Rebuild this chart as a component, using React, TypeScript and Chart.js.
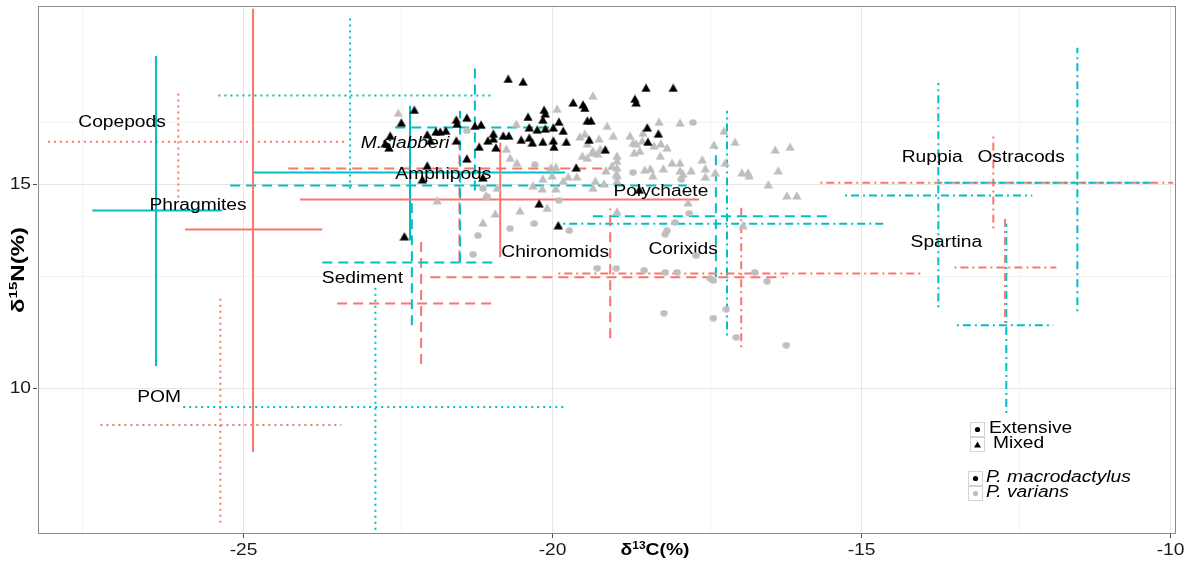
import React, { useEffect, useRef } from 'react';
import { Chart, registerables } from 'chart.js';

Chart.register(...registerables);

const WIDTH = 1201;
const HEIGHT = 569;

const xRange = [-28.32, -9.92];
const yRange = [6.46, 19.34];
const xTickValues = [-25, -20, -15, -10];
const yTickValues = [10, 15];
const xMinorGrid = [-27.6, -22.45, -17.45, -12.45];
const yMinorGrid = [12.75, 16.5];

const SALMON = '#F8766D';
const CYAN = '#00BFC4';
const GREY = '#BEBEBE';

// Source crosshairs (mean with ranges)
const sourceNames = ['Phragmites', 'Phragmites', 'Chironomids', 'Amphipods', 'Copepods', 'Copepods', 'POM', 'POM', 'Sediment', 'Sediment', 'M.slabberi', 'Amphipods', 'M.slabberi', 'Chironomids', 'Corixids', 'Polychaete', 'Corixids', 'Ruppia', 'Ostracods', 'Ostracods', 'Spartina', 'Spartina'];
const sourceColors = ['c', 's', 's', 'c', 'c', 's', 'c', 's', 'c', 's', 'c', 'c', 's', 's', 's', 'c', 'c', 'c', 'c', 's', 's', 'c'];
const sourceLineTypes = ['solid', 'solid', 'solid', 'solid', 'dotted', 'dotted', 'dotted', 'dotted', 'dashed', 'dashed', 'dashed', 'dashed', 'dashed', 'dashed', 'dotdash', 'dotdash', 'dashed', 'dotdash', 'dotdash', 'dotdash', 'dotdash', 'dotdash'];
const sourceCenterX = [-26.41, -24.84, -20.84, -22.30, -23.27, -26.05, -22.86, -25.37, -22.27, -22.12, -21.25, -21.49, -21.50, -19.06, -16.94, -17.17, -17.35, -13.75, -11.50, -12.86, -12.67, -12.65];
const sourceCenterY = [14.34, 13.88, 14.61, 15.27, 17.15, 16.02, 9.54, 9.10, 13.07, 12.07, 16.37, 14.95, 15.37, 12.71, 12.80, 14.02, 14.20, 14.71, 15.02, 15.02, 12.95, 11.54];
const sourceXLow = [-27.44, -25.94, -24.08, -24.84, -25.40, -28.16, -25.97, -27.31, -23.72, -23.48, -22.54, -25.21, -24.27, -21.97, -19.90, -19.82, -19.34, -15.26, -13.75, -15.66, -13.49, -13.45];
const sourceXHigh = [-25.34, -23.72, -17.62, -19.79, -20.95, -23.35, -19.79, -23.41, -20.95, -20.94, -20.03, -17.82, -18.95, -16.25, -14.01, -14.64, -15.47, -12.23, -10.27, -9.95, -11.84, -11.89];
const sourceYLow = [10.54, 8.44, 13.20, 13.61, 14.88, 14.66, 6.54, 6.71, 11.54, 10.59, 14.83, 13.07, 13.12, 11.22, 11.00, 11.29, 12.71, 11.98, 11.88, 13.90, 11.59, 9.39];
const sourceYHigh = [18.12, 19.27, 16.00, 16.90, 19.10, 17.22, 12.51, 12.24, 14.61, 13.68, 17.95, 16.78, 16.05, 14.39, 14.41, 16.78, 15.88, 17.46, 18.32, 16.24, 14.22, 14.02];

// Text labels
const labelTexts = ['Copepods', 'Phragmites', 'M.slabberi', 'Amphipods', 'Polychaete', 'Chironomids', 'Corixids', 'Sediment', 'POM', 'Ruppia', 'Ostracods', 'Spartina'];
const labelX = [-26.96, -25.73, -22.38, -21.76, -18.24, -19.95, -17.88, -23.07, -26.36, -13.85, -12.41, -13.62];
const labelY = [16.49, 14.46, 15.98, 15.22, 14.80, 13.32, 13.39, 12.68, 9.76, 15.63, 15.63, 13.56];
const labelItalic = [false, false, true, false, false, false, false, false, false, false, false, false];

// P. macrodactylus, Mixed (black triangles)
const macroMixed: [number, number][] = [
  [-20.71, 17.56], [-20.47, 17.49], [-19.66, 16.98], [-19.50, 16.93], [-19.47, 16.85], [-18.48, 17.34], [-18.04, 17.34], [-18.66, 17.07], [-18.64, 16.98], [-22.23, 16.80],
  [-22.44, 16.49], [-21.55, 16.56], [-21.38, 16.61], [-21.54, 16.46], [-21.15, 16.44], [-21.25, 16.41], [-20.39, 16.63], [-20.13, 16.80], [-20.11, 16.71], [-20.15, 16.56],
  [-19.89, 16.51], [-20.37, 16.37], [-20.24, 16.32], [-20.11, 16.34], [-19.98, 16.37], [-19.82, 16.29], [-19.43, 16.54], [-19.37, 16.54], [-18.46, 16.37], [-18.28, 16.22],
  [-18.45, 16.02], [-22.62, 16.17], [-22.02, 16.20], [-21.88, 16.27], [-21.81, 16.27], [-21.72, 16.29], [-21.55, 16.05], [-21.97, 16.05], [-22.64, 15.88], [-22.70, 15.98],
  [-20.95, 16.22], [-20.95, 16.10], [-20.79, 16.17], [-20.70, 16.17], [-20.50, 16.07], [-20.32, 16.00], [-20.37, 16.12], [-20.15, 16.02], [-19.98, 16.05], [-19.97, 15.90],
  [-19.77, 16.02], [-19.40, 16.07], [-19.14, 15.83], [-21.18, 15.90], [-20.91, 15.88], [-21.04, 16.05], [-21.38, 15.61], [-22.02, 15.44], [-21.12, 15.15], [-22.10, 15.10],
  [-19.61, 15.39], [-20.21, 14.51], [-19.90, 13.98], [-22.39, 13.71], [-18.59, 14.85]
];

// P. varians, Mixed (grey triangles)
const variansMixed: [number, number][] = [
  [-19.34, 17.15], [-19.11, 16.41], [-19.01, 16.17], [-18.74, 16.17], [-18.53, 16.24], [-18.27, 16.51], [-17.93, 16.49], [-18.35, 15.93], [-18.69, 16.00], [-18.54, 16.05],
  [-18.58, 15.80], [-18.25, 15.68], [-18.06, 15.51], [-17.93, 15.51], [-17.93, 15.32], [-18.20, 15.37], [-18.41, 15.37], [-18.50, 15.34], [-17.57, 15.59], [-17.38, 15.95],
  [-17.22, 16.29], [-17.04, 16.02], [-17.20, 15.51], [-17.52, 15.37], [-17.52, 15.17], [-17.36, 15.27], [-16.93, 15.27], [-16.83, 15.27], [-16.81, 15.20], [-16.39, 15.83],
  [-16.15, 15.90], [-16.34, 15.32], [-16.50, 14.98], [-16.20, 14.71], [-16.04, 14.71], [-18.95, 15.68], [-18.95, 15.56], [-18.95, 15.39], [-18.96, 15.24], [-18.95, 15.07],
  [-19.03, 15.44], [-19.13, 15.32], [-19.30, 15.07], [-18.95, 14.32], [-17.80, 14.54], [-16.91, 13.98], [-19.43, 15.98], [-19.35, 15.76], [-19.22, 15.85], [-19.51, 15.68],
  [-22.49, 16.73], [-20.58, 16.46], [-19.92, 16.83], [-19.55, 16.15], [-19.47, 16.22], [-19.24, 16.10], [-19.34, 15.80], [-19.26, 15.73], [-19.43, 15.63], [-18.64, 15.98],
  [-18.24, 15.98], [-18.14, 15.88], [-17.75, 15.32], [-17.88, 15.24], [-18.67, 15.76], [-18.37, 15.20], [-18.95, 15.20], [-20.74, 15.85], [-20.68, 15.63], [-20.57, 15.51],
  [-19.74, 15.17], [-19.82, 15.07], [-20.00, 15.20], [-20.15, 15.12], [-19.60, 15.17], [-20.02, 15.39], [-19.94, 15.41], [-20.16, 14.88], [-19.94, 14.88], [-19.34, 14.90],
  [-19.16, 15.00], [-20.52, 14.34], [-20.92, 14.27], [-21.12, 14.05], [-21.86, 14.59], [-20.89, 14.90], [-21.07, 14.71], [-20.08, 14.41], [-20.31, 14.95]
];

// P. varians, Extensive (grey circles)
const variansExtensive: [number, number][] = [
  [-17.72, 16.49], [-18.69, 15.27], [-17.91, 15.10], [-17.78, 14.27], [-18.01, 14.05], [-18.14, 13.85], [-18.17, 13.76], [-17.67, 13.24], [-19.27, 12.93], [-18.96, 12.93],
  [-18.51, 12.88], [-18.17, 12.83], [-17.98, 12.83], [-17.44, 12.68], [-17.39, 12.63], [-16.72, 12.83], [-16.52, 12.61], [-18.19, 11.83], [-17.39, 11.71], [-17.18, 11.93],
  [-17.02, 11.24], [-16.21, 11.05], [-21.38, 16.29], [-20.28, 15.46], [-21.05, 14.68], [-21.12, 14.88], [-20.29, 14.02], [-20.68, 13.90], [-21.20, 13.73], [-21.28, 13.27],
  [-19.72, 13.85], [-19.89, 14.59]
];

const legendShapeLabels = ['Extensive', 'Mixed'];
const legendSpeciesLabels = ['P. macrodactylus', 'P. varians'];

const FONT = '"Liberation Sans", Arial, sans-serif';
const STRETCH = 1.2;

const dashFor = (t: string): number[] => {
  if (t === 'dashed') return [10, 6];
  if (t === 'dotted') return [2, 4];
  if (t === 'dotdash') return [2, 4, 8, 4];
  return [];
};

function makeTriangle(color: string, w = 10, h = 9): HTMLCanvasElement {
  const c = document.createElement('canvas');
  c.width = w; c.height = h;
  const g = c.getContext('2d')!;
  g.fillStyle = color;
  g.beginPath();
  g.moveTo(w / 2, 0.3);
  g.lineTo(w - 0.3, h - 0.5);
  g.lineTo(0.3, h - 0.5);
  g.closePath();
  g.fill();
  return c;
}

function makeEllipse(color: string, w = 8, h = 7): HTMLCanvasElement {
  const c = document.createElement('canvas');
  c.width = w; c.height = h;
  const g = c.getContext('2d')!;
  g.fillStyle = color;
  g.beginPath();
  g.ellipse(w / 2, h / 2, w / 2 - 0.3, h / 2 - 0.3, 0, 0, Math.PI * 2);
  g.fill();
  return c;
}

function stretchText(ctx: CanvasRenderingContext2D, text: string, x: number, y: number, font: string, align: CanvasTextAlign, color = '#000') {
  ctx.save();
  ctx.font = font;
  ctx.fillStyle = color;
  ctx.textBaseline = 'middle';
  ctx.textAlign = align;
  ctx.translate(x, y);
  ctx.scale(STRETCH, 1);
  ctx.fillText(text, 0, 0);
  ctx.restore();
}

type Part = { t: string; size: number; dy: number };
function richTitle(ctx: CanvasRenderingContext2D, parts: Part[], x: number, y: number, targetLen: number, rotate: boolean, thick: number) {
  ctx.save();
  const widths = parts.map((p) => { ctx.font = `bold ${p.size}px ${FONT}`; return ctx.measureText(p.t).width; });
  const total = widths.reduce((a, b) => a + b, 0);
  const s = targetLen / total;
  ctx.translate(x, y);
  if (rotate) ctx.rotate(-Math.PI / 2);
  ctx.scale(s, thick);
  ctx.fillStyle = '#000';
  ctx.textBaseline = 'alphabetic';
  ctx.textAlign = 'left';
  let cx = -total / 2;
  parts.forEach((p, i) => {
    ctx.font = `bold ${p.size}px ${FONT}`;
    ctx.fillText(p.t, cx, 6 + p.dy);
    cx += widths[i];
  });
  ctx.restore();
}

export default function App() {
  const ref = useRef<HTMLCanvasElement>(null);

  useEffect(() => {
    document.body.style.margin = '0';
    const canvas = ref.current;
    if (!canvas) return;

    const triBlack = makeTriangle('#000000');
    const triGrey = makeTriangle(GREY);
    const circGrey = makeEllipse(GREY);

    const datasets: any[] = [
      { label: 'macroMixed', data: macroMixed.map(([x, y]) => ({ x, y })), pointStyle: triBlack, pointRadius: 5, order: 1 },
      { label: 'variansMixed', data: variansMixed.map(([x, y]) => ({ x, y })), pointStyle: triGrey, pointRadius: 5, order: 2 },
      { label: 'variansExtensive', data: variansExtensive.map(([x, y]) => ({ x, y })), pointStyle: circGrey, pointRadius: 4, order: 3 },
    ];

    sourceNames.forEach((name, i) => {
      const color = sourceColors[i] === 's' ? SALMON : CYAN;
      const dash = dashFor(sourceLineTypes[i]);
      const common = { showLine: true, borderColor: color, borderWidth: 2, borderDash: dash, pointRadius: 0, fill: false, order: 10, borderCapStyle: 'butt' };
      datasets.push({ ...common, label: name + ' h', data: [{ x: sourceXLow[i], y: sourceCenterY[i] }, { x: sourceXHigh[i], y: sourceCenterY[i] }] });
      datasets.push({ ...common, label: name + ' v', data: [{ x: sourceCenterX[i], y: sourceYLow[i] }, { x: sourceCenterX[i], y: sourceYHigh[i] }] });
    });

    const decor = {
      id: 'decor',
      beforeDatasetsDraw(chart: any) {
        const { ctx, chartArea } = chart;
        const { left, right, top, bottom } = chartArea;
        const xs = chart.scales.x;
        const ys = chart.scales.y;
        ctx.save();
        ctx.fillStyle = '#ffffff';
        ctx.fillRect(left, top, right - left, bottom - top);
        ctx.lineWidth = 1;
        ctx.strokeStyle = '#f3f3f3';
        xMinorGrid.forEach((v) => { const p = Math.round(xs.getPixelForValue(v)) + 0.5; ctx.beginPath(); ctx.moveTo(p, top); ctx.lineTo(p, bottom); ctx.stroke(); });
        yMinorGrid.forEach((v) => { const p = Math.round(ys.getPixelForValue(v)) + 0.5; ctx.beginPath(); ctx.moveTo(left, p); ctx.lineTo(right, p); ctx.stroke(); });
        ctx.strokeStyle = '#e6e6e6';
        xTickValues.forEach((v) => { const p = Math.round(xs.getPixelForValue(v)) + 0.5; ctx.beginPath(); ctx.moveTo(p, top); ctx.lineTo(p, bottom); ctx.stroke(); });
        yTickValues.forEach((v) => { const p = Math.round(ys.getPixelForValue(v)) + 0.5; ctx.beginPath(); ctx.moveTo(left, p); ctx.lineTo(right, p); ctx.stroke(); });
        ctx.restore();
      },
      beforeDatasetDraw(chart: any, args: any) {
        if (args.index !== 2) return;
        const { ctx } = chart;
        const xs = chart.scales.x;
        const ys = chart.scales.y;
        labelTexts.forEach((t, i) => {
          const f = `${labelItalic[i] ? 'italic ' : ''}16px ${FONT}`;
          stretchText(ctx, t, xs.getPixelForValue(labelX[i]), ys.getPixelForValue(labelY[i]), f, 'center', '#000');
        });
      },
      afterDraw(chart: any) {
        const { ctx, chartArea } = chart;
        const { left, right, top, bottom } = chartArea;
        const xs = chart.scales.x;
        const ys = chart.scales.y;
        ctx.save();
        // panel border
        ctx.strokeStyle = '#8c8c8c';
        ctx.lineWidth = 1;
        ctx.strokeRect(Math.round(left) + 0.5, Math.round(top) + 0.5, Math.round(right - left), Math.round(bottom - top));
        // ticks
        ctx.strokeStyle = '#4d4d4d';
        xTickValues.forEach((v) => {
          const p = Math.round(xs.getPixelForValue(v)) + 0.5;
          ctx.beginPath(); ctx.moveTo(p, bottom + 1); ctx.lineTo(p, bottom + 5); ctx.stroke();
          stretchText(ctx, String(v), p, bottom + 18, `16px ${FONT}`, 'center', '#1a1a1a');
        });
        yTickValues.forEach((v) => {
          const p = Math.round(ys.getPixelForValue(v)) + 0.5;
          ctx.beginPath(); ctx.moveTo(left - 5, p); ctx.lineTo(left - 1, p); ctx.stroke();
          stretchText(ctx, String(v), left - 7, p, `16px ${FONT}`, 'right', '#1a1a1a');
        });
        // axis titles
        richTitle(ctx, [{ t: 'δ', size: 16, dy: 0 }, { t: '13', size: 10, dy: -6 }, { t: 'C(%)', size: 16, dy: 0 }], 655, 549, 69, false, 1);
        richTitle(ctx, [{ t: 'δ', size: 16, dy: 0 }, { t: '15', size: 10, dy: -6 }, { t: 'N(%)', size: 16, dy: 0 }], 17, 270, 86, true, 1.15);
        // legend
        ctx.strokeStyle = '#d4d4d4';
        ctx.lineWidth = 1;
        const boxes = [[970.5, 422.5], [970.5, 437.5], [968.5, 471.5], [968.5, 486.5]];
        boxes.forEach(([bx, by]) => ctx.strokeRect(bx, by, 14, 14));
        ctx.fillStyle = '#000';
        ctx.beginPath(); ctx.arc(977.5, 429.5, 2.6, 0, Math.PI * 2); ctx.fill();
        ctx.beginPath(); ctx.moveTo(977.5, 441.5); ctx.lineTo(981, 447.5); ctx.lineTo(974, 447.5); ctx.closePath(); ctx.fill();
        ctx.beginPath(); ctx.arc(975.5, 478.5, 2.6, 0, Math.PI * 2); ctx.fill();
        ctx.fillStyle = GREY;
        ctx.beginPath(); ctx.arc(975.5, 493.5, 2.6, 0, Math.PI * 2); ctx.fill();
        stretchText(ctx, legendShapeLabels[0], 989, 429, `16px ${FONT}`, 'left');
        stretchText(ctx, legendShapeLabels[1], 993, 444, `16px ${FONT}`, 'left');
        stretchText(ctx, legendSpeciesLabels[0], 986, 478, `italic 16px ${FONT}`, 'left');
        stretchText(ctx, legendSpeciesLabels[1], 986, 493, `italic 16px ${FONT}`, 'left');
        ctx.restore();
      },
    };

    const chart = new Chart(canvas, {
      type: 'scatter',
      data: { datasets },
      options: {
        animation: false,
        responsive: false,
        devicePixelRatio: 1,
        events: [],
        layout: { padding: { top: 5, right: 26, left: 0, bottom: 0 } },
        plugins: { legend: { display: false }, tooltip: { enabled: false } },
        scales: {
          x: {
            type: 'linear', min: xRange[0], max: xRange[1],
            grid: { display: false }, border: { display: false }, ticks: { display: false },
            afterFit: (s: any) => { s.height = 36; },
          },
          y: {
            type: 'linear', min: yRange[0], max: yRange[1],
            grid: { display: false }, border: { display: false }, ticks: { display: false },
            afterFit: (s: any) => { s.width = 38; },
          },
        },
      } as any,
      plugins: [decor],
    });

    return () => chart.destroy();
  }, []);

  return (
    <div style={{ width: WIDTH, height: HEIGHT }}>
      <canvas ref={ref} width={WIDTH} height={HEIGHT} style={{ display: 'block' }} />
    </div>
  );
}
